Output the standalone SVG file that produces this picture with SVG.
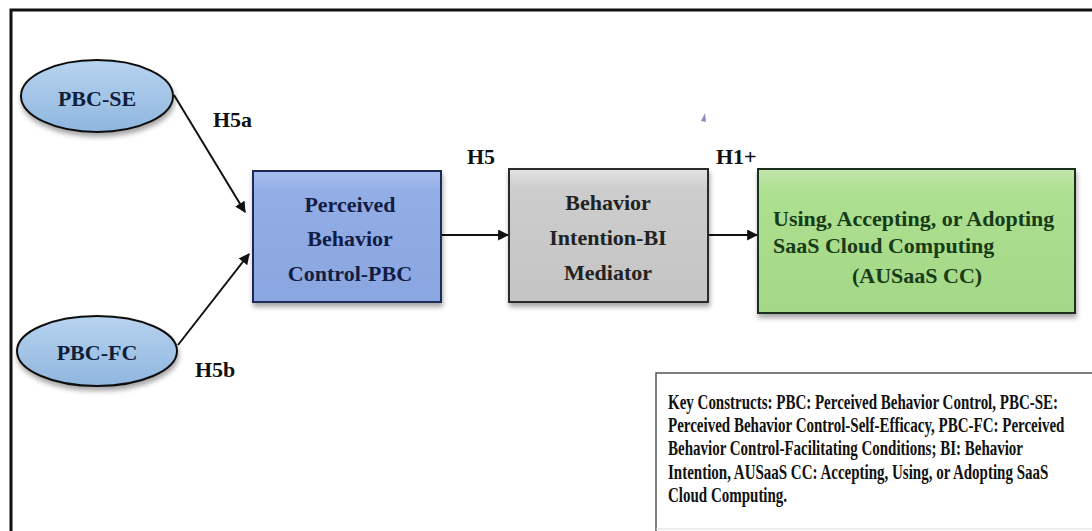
<svg xmlns="http://www.w3.org/2000/svg" width="1092" height="531" viewBox="0 0 1092 531">
<defs>
<style>
.lbl{font-family:"Liberation Serif","Times New Roman",serif;font-weight:bold;font-size:22px;fill:#111}
.nt{font-family:"Liberation Serif","Times New Roman",serif;font-weight:bold;font-size:22px;text-anchor:middle}
.gt{font-family:"Liberation Serif","Times New Roman",serif;font-weight:bold;font-size:22px}
.key{font-family:"Liberation Serif","Times New Roman",serif;font-weight:bold;font-size:15px;fill:#111}
.conn{stroke:#111;stroke-width:2;fill:none;marker-end:url(#ah)}
</style>
<marker id="ah" viewBox="0 0 10 10" refX="9" refY="5" markerWidth="5.5" markerHeight="5.5" orient="auto" markerUnits="strokeWidth">
<path d="M0,0 L10,5 L0,10 z" fill="#111"/>
</marker>
<linearGradient id="gEll" x1="0" y1="0" x2="0" y2="1">
<stop offset="0" stop-color="#b7d3ef"/>
<stop offset="1" stop-color="#8fb6df"/>
</linearGradient>
<linearGradient id="gPbc" x1="0" y1="0" x2="0" y2="1">
<stop offset="0" stop-color="#a9bff0"/>
<stop offset="0.15" stop-color="#93ade6"/>
<stop offset="1" stop-color="#8aa6e0"/>
</linearGradient>
<linearGradient id="gBi" x1="0" y1="0" x2="0" y2="1">
<stop offset="0" stop-color="#e2e2e2"/>
<stop offset="0.15" stop-color="#cdcdcd"/>
<stop offset="1" stop-color="#c4c4c4"/>
</linearGradient>
<linearGradient id="gGr" x1="0" y1="0" x2="0" y2="1">
<stop offset="0" stop-color="#c2e6ad"/>
<stop offset="0.15" stop-color="#ade090"/>
<stop offset="1" stop-color="#a3d886"/>
</linearGradient>
<filter id="sh" x="-10%" y="-10%" width="120%" height="130%">
<feDropShadow dx="1" dy="4" stdDeviation="2.5" flood-color="#000" flood-opacity="0.35"/>
</filter>
</defs>
<rect width="1092" height="531" fill="#ffffff"/>
<g id="frame">
<path d="M11,531 L11,10 L1092,10" fill="none" stroke="#111" stroke-width="3"/>
</g>
<g id="artifact">
<path d="M701,121 L705,113 L706,122 z" fill="#8a8fc0"/>
</g>
<g id="connectors">
<line class="conn" x1="174" y1="95" x2="245" y2="212"/>
<line class="conn" x1="178" y1="345" x2="249" y2="254"/>
<line class="conn" x1="441" y1="235" x2="508" y2="235"/>
<line class="conn" x1="708" y1="235" x2="757" y2="235"/>
</g>
<g id="labels">
<text class="lbl" x="213" y="127">H5a</text>
<text class="lbl" x="195" y="377">H5b</text>
<text class="lbl" x="467" y="164">H5</text>
<text class="lbl" x="716" y="164">H1+</text>
</g>
<g id="pbc-se">
<ellipse cx="97" cy="96" rx="76" ry="36" fill="url(#gEll)" stroke="#111" stroke-width="2" filter="url(#sh)"/>
<text class="nt" x="97" y="106" fill="#0f1e3a">PBC-SE</text>
</g>
<g id="pbc-fc">
<ellipse cx="97" cy="351" rx="80" ry="35" fill="url(#gEll)" stroke="#111" stroke-width="2" filter="url(#sh)"/>
<text class="nt" x="97" y="360" fill="#0f1e3a">PBC-FC</text>
</g>
<g id="pbc">
<rect x="253" y="171" width="188" height="131" fill="url(#gPbc)" stroke="#1c2a55" stroke-width="2" filter="url(#sh)"/>
<text class="nt" x="350" y="212" fill="#121c44">Perceived</text>
<text class="nt" x="350" y="246" fill="#121c44">Behavior</text>
<text class="nt" x="350" y="281" fill="#121c44">Control-PBC</text>
</g>
<g id="bi">
<rect x="509" y="169" width="199" height="133" fill="url(#gBi)" stroke="#2a2a2a" stroke-width="2" filter="url(#sh)"/>
<text class="nt" x="608" y="210" fill="#222">Behavior</text>
<text class="nt" x="608" y="245" fill="#222">Intention-BI</text>
<text class="nt" x="608" y="280" fill="#222">Mediator</text>
</g>
<g id="ausaas">
<rect x="758" y="169" width="317" height="144" fill="url(#gGr)" stroke="#1e2e1e" stroke-width="2" filter="url(#sh)"/>
<text class="gt" x="773" y="226" fill="#173a17">Using, Accepting, or Adopting</text>
<text class="gt" x="773" y="253" fill="#173a17">SaaS Cloud Computing</text>
<text class="gt" x="852" y="283" fill="#173a17">(AUSaaS CC)</text>
</g>
<g id="key">
<path d="M656,531 L656,373 L1092,373" fill="none" stroke="#555" stroke-width="1.5"/>
<line x1="656" y1="529" x2="1092" y2="529" stroke="#ddd" stroke-width="1"/>
<text class="key" transform="translate(668,409) scale(1,1.4)">Key Constructs: PBC: Perceived Behavior Control, PBC-SE:</text>
<text class="key" transform="translate(668,432) scale(1,1.4)">Perceived Behavior Control-Self-Efficacy, PBC-FC: Perceived</text>
<text class="key" transform="translate(668,455) scale(1,1.4)">Behavior Control-Facilitating Conditions; BI: Behavior</text>
<text class="key" transform="translate(668,479) scale(1,1.4)">Intention, AUSaaS CC: Accepting, Using, or Adopting SaaS</text>
<text class="key" transform="translate(668,502) scale(1,1.4)">Cloud Computing.</text>
</g>
</svg>
